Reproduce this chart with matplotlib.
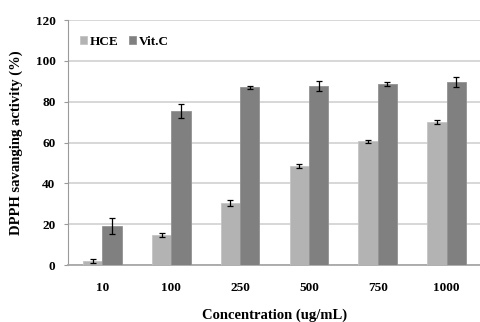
import matplotlib
matplotlib.use("Agg")
import matplotlib.pyplot as plt
import numpy as np

categories = ["10", "100", "250", "500", "750", "1000"]
hce = [2.0, 14.8, 30.5, 48.5, 60.5, 70.0]
hce_err = [0.8, 0.9, 1.5, 1.0, 0.6, 0.8]
vitc = [19.0, 75.5, 87.0, 87.5, 88.5, 89.5]
vitc_err = [4.0, 3.5, 0.8, 2.5, 1.0, 2.5]

plt.rcParams['font.family'] = ['Liberation Serif', 'DejaVu Serif']
plt.rcParams['font.weight'] = 'bold'

fig = plt.figure(figsize=(4.81, 3.22), dpi=100)
ax = fig.add_axes([68/481, 1-265/322, 1-68/481, (265-20)/322])

x = np.arange(len(categories))
w = 0.28
ax.bar(x - w/2, hce, w, color='#b3b3b3', edgecolor='#c4c4c4', linewidth=0.6, label='HCE', zorder=3)
ax.bar(x + w/2, vitc, w, color='#808080', edgecolor='#929292', linewidth=0.6, label='Vit.C', zorder=3)
ax.errorbar(x - w/2, hce, yerr=hce_err, fmt='none', ecolor='black', elinewidth=0.9, capsize=2.5, capthick=0.9, zorder=4)
ax.errorbar(x + w/2, vitc, yerr=vitc_err, fmt='none', ecolor='black', elinewidth=0.9, capsize=2.5, capthick=0.9, zorder=4)

ax.set_xlim(-0.5, len(categories) - 0.5)
ax.set_ylim(0, 120)
ax.set_yticks(np.arange(0, 121, 20))
ax.set_xticks(x)
ax.set_xticklabels(categories)
ax.yaxis.grid(True, color='#d4d4d4', linewidth=1.3, zorder=0)
ax.set_axisbelow(True)

for s in ['top', 'right']:
    ax.spines[s].set_visible(False)
ax.spines['left'].set_color('#9a9a9a')
ax.spines['bottom'].set_color('#a8a8a8')
ax.spines['bottom'].set_linewidth(1.3)
ax.tick_params(axis='x', length=0, pad=12, labelsize=9.5)
ax.tick_params(axis='y', length=3, color='#9a9a9a', pad=6, labelsize=9.5)

ax.set_xlabel('Concentration (ug/mL)', fontsize=10.5, fontweight='bold', labelpad=11)
ax.set_ylabel('DPPH savanging activity (%)', fontsize=10.5, fontweight='bold', labelpad=9)

ax.legend(loc='upper left', bbox_to_anchor=(0.0, 0.985), ncol=2, frameon=False, fontsize=9.5,
          handlelength=0.55, handleheight=0.55, handletextpad=0.2, columnspacing=0.8)

fig.savefig('out.png', dpi=100)
